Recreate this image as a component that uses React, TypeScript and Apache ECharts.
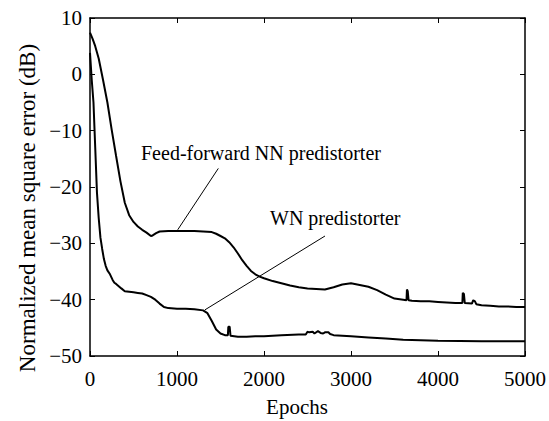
import React, { useEffect, useRef } from "react";
import * as echarts from "echarts";

// Feed-forward NN predistorter learning curve
const epochsFF = [0, 30, 60, 100, 150, 200, 250, 300, 350, 400, 450, 500, 550, 600, 650, 700, 720, 760, 800, 900, 1000, 1100, 1200, 1300, 1400, 1450, 1500, 1550, 1600, 1650, 1700, 1750, 1800, 1850, 1900, 1950, 2000, 2100, 2200, 2300, 2400, 2500, 2600, 2700, 2800, 2900, 3000, 3100, 3200, 3300, 3400, 3500, 3600, 3638, 3643, 3652, 3662, 3700, 3800, 3900, 4000, 4100, 4200, 4280, 4285, 4298, 4308, 4390, 4405, 4425, 4440, 4500, 4600, 4700, 4800, 4900, 5000];
const mseFF = [7.4, 6.3, 5.0, 2.8, -1.0, -5.0, -9.9, -14.5, -19.0, -22.8, -25.0, -26.2, -27.0, -27.6, -28.1, -28.7, -28.6, -28.2, -27.9, -27.8, -27.8, -27.8, -27.8, -27.9, -28.0, -28.3, -28.7, -29.1, -29.8, -30.7, -31.8, -33.0, -34.0, -34.9, -35.5, -35.9, -36.2, -36.7, -37.1, -37.5, -37.8, -38.0, -38.1, -38.2, -37.8, -37.3, -37.1, -37.4, -37.7, -38.3, -39.1, -39.8, -40.0, -40.1, -38.2, -38.5, -40.1, -40.2, -40.3, -40.3, -40.4, -40.5, -40.6, -40.6, -38.8, -39.0, -40.6, -40.7, -40.1, -40.3, -40.8, -41.0, -41.1, -41.2, -41.2, -41.3, -41.3];

// WN predistorter learning curve
const epochsWN = [0, 20, 40, 60, 80, 100, 120, 140, 160, 180, 200, 230, 260, 280, 300, 330, 360, 400, 450, 500, 550, 600, 650, 700, 750, 800, 850, 900, 1000, 1100, 1200, 1300, 1350, 1400, 1450, 1500, 1550, 1585, 1590, 1605, 1615, 1700, 1800, 1900, 2000, 2200, 2400, 2480, 2500, 2520, 2560, 2580, 2620, 2650, 2680, 2700, 2740, 2760, 2800, 3000, 3200, 3400, 3600, 3800, 4000, 4500, 5000];
const mseWN = [3.8, -1.0, -5.0, -13.0, -21.0, -25.5, -29.0, -31.0, -32.8, -34.0, -34.8, -35.5, -36.5, -37.0, -37.2, -37.6, -38.0, -38.5, -38.6, -38.7, -38.8, -38.9, -39.2, -39.5, -40.0, -40.7, -41.3, -41.5, -41.6, -41.6, -41.7, -41.9, -42.4, -43.8, -45.3, -46.0, -46.3, -46.3, -44.8, -44.8, -46.4, -46.6, -46.6, -46.5, -46.5, -46.3, -46.2, -46.2, -45.7, -45.8, -45.7, -46.0, -45.6, -45.9, -46.0, -45.8, -45.8, -46.1, -46.3, -46.5, -46.7, -46.9, -47.1, -47.2, -47.3, -47.4, -47.4];

// Annotation leader lines (data coordinates: [epoch, dB])
const leaderFF = [[1475, -16.7], [1008, -27.6]];
const leaderWN = [[2701, -28.7], [1322, -41.8]];

const labelFF = "Feed-forward NN predistorter";
const labelWN = "WN predistorter";

const xTitle = "Epochs";
const yTitle = "Normalized mean square error (dB)";

const FONT = "'Liberation Serif', 'Times New Roman', serif";

export default function App() {
  const ref = useRef<HTMLDivElement>(null);
  useEffect(() => {
    const chart = echarts.init(ref.current as HTMLDivElement, null, { renderer: "svg" });
    const fmtY = (v: number) => (v < 0 ? "\u2212" + Math.abs(v) : String(v));
    const fmtX = (v: number) => String(v);
    const axisCommon = {
      axisLine: { show: true, onZero: false, lineStyle: { color: "#000", width: 1.5 } },
      axisTick: { show: true, inside: true, length: 5, lineStyle: { color: "#000", width: 1 } },
      splitLine: { show: false },
    };
    const leader = (pts: number[][]) => ({
      silent: true,
      symbol: ["none", "none"],
      label: { show: false },
      lineStyle: { color: "#000", width: 1, type: "solid" },
      emphasis: { disabled: true },
      data: [[{ coord: pts[0] }, { coord: pts[1] }]],
    });
    chart.setOption({
      animation: false,
      backgroundColor: "#fff",
      textStyle: { fontFamily: FONT },
      grid: { left: 90, right: 24, top: 18, bottom: 65, outerBoundsMode: "none", containLabel: false },
      xAxis: [
        {
          type: "value",
          position: "bottom",
          min: 0,
          max: 5000,
          interval: 1000,
          ...axisCommon,
          axisLabel: { color: "#000", fontSize: 21, fontFamily: FONT, margin: 12, formatter: fmtX },
          name: xTitle,
          nameLocation: "middle",
          nameGap: 40,
          nameTextStyle: { color: "#000", fontSize: 21, fontFamily: FONT, padding: [0, 21, 0, 0] },
        },
        {
          type: "value",
          position: "top",
          min: 0,
          max: 5000,
          interval: 1000,
          ...axisCommon,
          axisLabel: { show: false },
        },
      ],
      yAxis: [
        {
          type: "value",
          position: "left",
          min: -50,
          max: 10,
          interval: 10,
          ...axisCommon,
          axisLabel: { color: "#000", fontSize: 21, fontFamily: FONT, margin: 8, formatter: fmtY },
        },
        {
          type: "value",
          position: "right",
          min: -50,
          max: 10,
          interval: 10,
          ...axisCommon,
          axisLabel: { show: false },
        },
      ],
      series: [
        {
          name: labelFF,
          type: "line",
          xAxisIndex: 0,
          yAxisIndex: 0,
          data: epochsFF.map((e, i) => [e, mseFF[i]]),
          showSymbol: false,
          symbol: "none",
          lineStyle: { color: "#000", width: 2 },
          silent: true,
          markLine: leader(leaderFF),
        },
        {
          name: labelWN,
          type: "line",
          xAxisIndex: 0,
          yAxisIndex: 0,
          data: epochsWN.map((e, i) => [e, mseWN[i]]),
          showSymbol: false,
          symbol: "none",
          lineStyle: { color: "#000", width: 2 },
          silent: true,
          markLine: leader(leaderWN),
        },
      ],
      graphic: [
        {
          type: "text",
          x: 27,
          y: 208,
          rotation: Math.PI / 2,
          style: { text: yTitle, fill: "#000", font: "23px " + FONT, align: "center", verticalAlign: "middle" },
        },
        {
          type: "text",
          x: 141,
          y: 152.5,
          style: { text: labelFF, fill: "#000", font: "20px " + FONT, align: "left", verticalAlign: "middle" },
        },
        {
          type: "text",
          x: 270,
          y: 217.5,
          style: { text: labelWN, fill: "#000", font: "20px " + FONT, align: "left", verticalAlign: "middle" },
        },
      ],
    });
    return () => chart.dispose();
  }, []);
  return (
    <div
      ref={ref}
      style={{ position: "fixed", left: 0, top: 0, width: 549, height: 421, background: "#fff" }}
    />
  );
}
